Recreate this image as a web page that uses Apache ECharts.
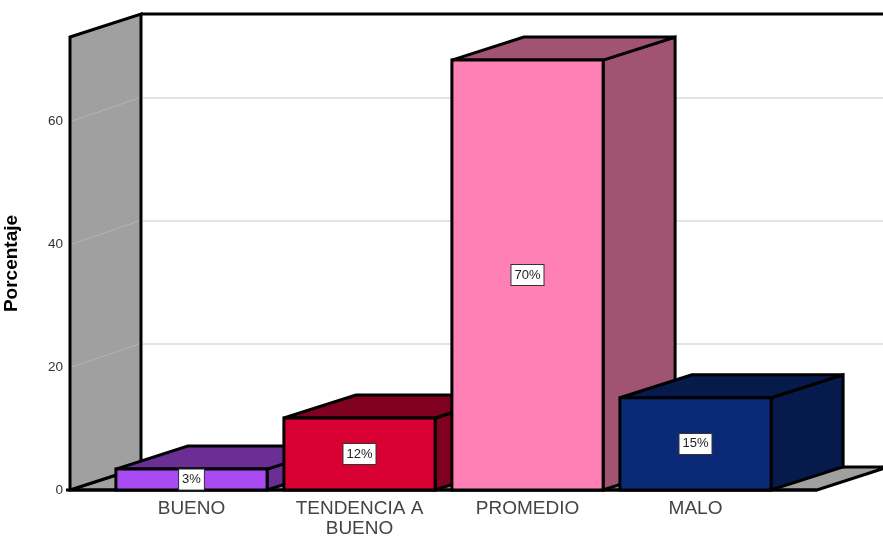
<!DOCTYPE html>
<html>
<head>
<meta charset="utf-8">
<title>Porcentaje</title>
<script src="https://cdn.jsdelivr.net/npm/echarts@6/dist/echarts.min.js"></script>
<style>
  html, body { margin: 0; padding: 0; background: #fff; }
  #chart { width: 883px; height: 538px; }
</style>
</head>
<body>
<div id="chart"></div>
<script>
// datos
const categories = ['BUENO', 'TENDENCIA A\nBUENO', 'PROMEDIO', 'MALO']
const percentages = [3.4, 11.7, 69.9, 15]
const percentLabels = ['3%', '12%', '70%', '15%']
const gridTicks = [20, 40, 60]

// colores de cada barra: frente y lados
const frontColors = ['#a84bf2', '#d90033', '#ff80b4', '#0a2a78']
const sideColors = ['#6b2e94', '#80001f', '#a05472', '#061a4c']

const DEPTH_X = 72
const DEPTH_Y = 23
const WALL_OFFSET = 37.5
const EDGE = { stroke: '#000', lineWidth: 3, lineJoin: 'miter', miterLimit: 2 }

const poly = (points, fill, style) => ({
  type: 'polygon',
  shape: { points },
  style: { fill, ...EDGE, ...style }
})

const line = (x1, y1, x2, y2, stroke, lineWidth) => ({
  type: 'line',
  shape: { x1, y1, x2, y2 },
  style: { stroke, lineWidth }
})

// paredes, suelo y lineas de cuadricula
const renderWalls = (params, api) => {
  const band = api.size([1, 0])[0]
  const origin = api.coord([0, 0])
  const top = api.coord([0, api.value(1)])[1]
  const left = origin[0] - band / 2 - WALL_OFFSET
  const bottom = origin[1]
  const right = api.getWidth()
  const floorEnd = api.coord([categories.length - 1, 0])[0] + band / 2 + WALL_OFFSET
  const backX = left + DEPTH_X - 1

  const children = [
    poly([[left, bottom], [backX, bottom - DEPTH_Y], [right + 5, bottom - DEPTH_Y], [floorEnd, bottom]], '#a0a0a0'),
    line(left + 6, bottom - 4, backX, bottom - DEPTH_Y - 2, '#fff', 1),
    poly([[left, top], [backX, top - DEPTH_Y], [backX, bottom - DEPTH_Y], [left, bottom]], '#a0a0a0'),
    line(backX, top - DEPTH_Y, right + 5, top - DEPTH_Y, '#000', 3),
    line(left - 4, bottom, floorEnd, bottom, '#000', 3)
  ]
  gridTicks.forEach((tick) => {
    const y = api.coord([0, tick])[1]
    children.push(line(left + 2, y, backX - 2, y - DEPTH_Y, '#b4b4b4', 1))
    children.push(line(backX + 2, y - DEPTH_Y, right, y - DEPTH_Y, '#c8c8c8', 1))
  })
  return { type: 'group', children }
}

// barra en perspectiva: lado, tapa, frente y etiqueta
const renderBar = (params, api) => {
  const i = api.value(0)
  const base = api.coord([i, 0])
  const peak = api.coord([i, api.value(1)])
  const width = api.size([1, 0])[0] * 0.9
  const x0 = base[0] - width / 2
  const x1 = base[0] + width / 2
  const y0 = peak[1]
  const y1 = base[1]

  return {
    type: 'group',
    children: [
      poly([[x1, y0], [x1 + DEPTH_X, y0 - DEPTH_Y], [x1 + DEPTH_X, y1 - DEPTH_Y], [x1, y1]], sideColors[i]),
      poly([[x0, y0], [x0 + DEPTH_X, y0 - DEPTH_Y], [x1 + DEPTH_X, y0 - DEPTH_Y], [x1, y0]], sideColors[i]),
      poly([[x0, y0], [x1, y0], [x1, y1], [x0, y1]], frontColors[i]),
      {
        type: 'text',
        style: {
          text: percentLabels[i],
          x: base[0],
          y: (y0 + y1) / 2,
          align: 'center',
          verticalAlign: 'middle',
          font: '13px "Liberation Sans", Arial, sans-serif',
          fill: '#222',
          backgroundColor: '#fff',
          borderColor: '#333',
          borderWidth: 1,
          padding: [4, 3, 3, 3]
        }
      }
    ]
  }
}

const chart = echarts.init(document.getElementById('chart'))

const option = {
  animation: false,
  backgroundColor: '#fff',
  grid: { left: 107.5, top: 37, width: 672, bottom: 48, outerBoundsMode: 'none' },
  xAxis: {
    type: 'category',
    data: categories,
    axisLine: { show: false },
    axisTick: { show: false },
    axisLabel: {
      margin: 9,
      interval: 0,
      fontFamily: '"Liberation Sans", Arial, sans-serif',
      fontSize: 19,
      lineHeight: 20,
      color: '#444'
    }
  },
  yAxis: {
    type: 'value',
    min: 0,
    max: 73.66,
    interval: 20,
    offset: WALL_OFFSET,
    name: 'Porcentaje',
    nameLocation: 'middle',
    nameGap: 49,
    nameTextStyle: {
      fontFamily: '"Liberation Sans", Arial, sans-serif',
      fontSize: 19,
      fontWeight: 'bold',
      color: '#000'
    },
    axisLine: { show: false },
    axisTick: { show: false },
    splitLine: { show: false },
    axisLabel: {
      margin: 7,
      showMaxLabel: false,
      fontFamily: '"Liberation Sans", Arial, sans-serif',
      fontSize: 13.5,
      color: '#333'
    }
  },
  series: [
    {
      type: 'custom',
      silent: true,
      clip: false,
      renderItem: renderWalls,
      data: [[0, 73.66]]
    },
    {
      type: 'custom',
      silent: true,
      clip: false,
      renderItem: renderBar,
      data: percentages.map((value, i) => [i, value])
    }
  ]
}

chart.setOption(option)
</script>
</body>
</html>
